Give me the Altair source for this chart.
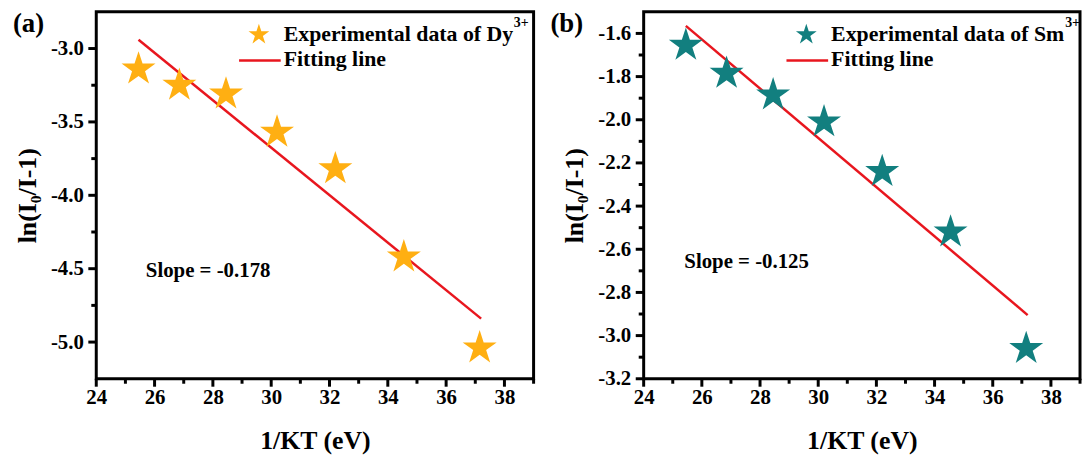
import altair as alt
import pandas as pd

# ---------------- data ----------------
inv_kt = [25.45, 26.85, 28.45, 30.2, 32.2, 34.55, 37.15]
dy_vals = [-3.14, -3.25, -3.31, -3.57, -3.82, -4.42, -5.04]
sm_vals = [-1.655, -1.785, -1.885, -2.01, -2.24, -2.52, -3.06]

fit_x = [25.45, 37.2]
dy_fit = [-2.94, -4.84]
sm_fit = [-1.565, -2.905]

x_major = [24, 26, 28, 30, 32, 34, 36, 38]
x_minor = [25, 27, 29, 31, 33, 35, 37, 39]
dy_major = [-5.0, -4.5, -4.0, -3.5, -3.0]
dy_minor = [-4.75, -4.25, -3.75, -3.25]
sm_major = [-3.2, -3.0, -2.8, -2.6, -2.4, -2.2, -2.0, -1.8, -1.6]
sm_minor = [-3.1, -2.9, -2.7, -2.5, -2.3, -2.1, -1.9, -1.7]

FONT = "Liberation Serif"
STAR = ("M0,-1 L0.2245,-0.309 L0.951,-0.309 L0.363,0.118 L0.588,0.809 L0,0.382 "
        "L-0.588,0.809 L-0.363,0.118 L-0.951,-0.309 L-0.2245,-0.309 Z")
RED = "#E8161E"
BLK = "#000000"
LW = 3
H = 370


def panel(tag, tag_x, ion, sup_x, color, yvals, fity, ydom, ymaj, ymin, slope_txt, slope_xy, width):
    pts = pd.DataFrame({"x": inv_kt, "y": yvals})
    fit = pd.DataFrame({"x": fit_x, "y": fity})

    xscale = alt.Scale(domain=[24, 39], nice=False, zero=False)
    yscale = alt.Scale(domain=ydom, nice=False, zero=False)

    xaxis = alt.Axis(
        values=x_major, title="1/KT (eV)", grid=False, format="d",
        ticks=False, domain=False,
        labelFont=FONT, labelFontWeight="bold", labelFontSize=21, labelColor=BLK,
        titleFont=FONT, titleFontWeight="bold", titleFontSize=26, titleColor=BLK,
        labelPadding=8, titlePadding=20, labelFlush=False, labelOverlap=False,
    )
    yaxis = alt.Axis(
        values=ymaj, title="ln(I\u2080/I-1)", grid=False,
        labelExpr="(datum.value < 0 ? '-' : '') + format(abs(datum.value), '.1f')",
        ticks=False, domain=False,
        labelFont=FONT, labelFontWeight="bold", labelFontSize=21, labelColor=BLK,
        titleFont=FONT, titleFontWeight="bold", titleFontSize=26, titleColor=BLK,
        labelPadding=13, titlePadding=10, labelFlush=False, labelOverlap=False,
    )

    line = alt.Chart(fit).mark_line(color=RED, strokeWidth=2.5).encode(
        x=alt.X("x:Q", scale=xscale, axis=xaxis),
        y=alt.Y("y:Q", scale=yscale, axis=yaxis),
    )
    stars = alt.Chart(pts).mark_point(
        shape=STAR, size=1296, filled=True, color=color, opacity=1, strokeWidth=0
    ).encode(x="x:Q", y="y:Q")

    # tick marks (major and minor) drawn through the scales
    xmaj_r = alt.Chart(pd.DataFrame({"x": x_major})).mark_rule(color=BLK, strokeWidth=LW).encode(
        x="x:Q", y=alt.value(H), y2=alt.value(H + 8)
    )
    xmin_r = alt.Chart(pd.DataFrame({"x": x_minor})).mark_rule(color=BLK, strokeWidth=LW).encode(
        x="x:Q", y=alt.value(H), y2=alt.value(H + 5)
    )
    ymaj_r = alt.Chart(pd.DataFrame({"y": ymaj})).mark_rule(color=BLK, strokeWidth=LW).encode(
        y="y:Q", x=alt.value(0), x2=alt.value(-8)
    )
    ymin_r = alt.Chart(pd.DataFrame({"y": ymin})).mark_rule(color=BLK, strokeWidth=LW).encode(
        y="y:Q", x=alt.value(0), x2=alt.value(-5)
    )
    # frame
    frame = alt.Chart(pd.DataFrame({"t": [0]})).mark_rect(
        fill=None, fillOpacity=0, stroke=BLK, strokeWidth=LW
    ).encode(x=alt.value(0), x2=alt.value(width), y=alt.value(0), y2=alt.value(H))

    lab = alt.Chart(pd.DataFrame({"t": [tag]})).mark_text(
        font=FONT, fontWeight="bold", fontSize=27, align="left", baseline="middle", color=BLK
    ).encode(x=alt.value(tag_x), y=alt.value(12), text="t:N")

    leg_star = alt.Chart(pd.DataFrame({"t": [0]})).mark_point(
        shape=STAR, size=484, filled=True, color=color, opacity=1, strokeWidth=0
    ).encode(x=alt.value(164), y=alt.value(23))
    leg_line = alt.Chart(pd.DataFrame({"t": [0]})).mark_rule(color=RED, strokeWidth=2.5).encode(
        x=alt.value(144), x2=alt.value(186), y=alt.value(49)
    )
    leg_t1 = alt.Chart(pd.DataFrame({"t": [f"Experimental data of {ion}"]})).mark_text(
        font=FONT, fontWeight="bold", fontSize=22, align="left", baseline="alphabetic", color=BLK
    ).encode(x=alt.value(189), y=alt.value(29), text="t:N")
    leg_sup = alt.Chart(pd.DataFrame({"t": ["3+"]})).mark_text(
        font=FONT, fontWeight="bold", fontSize=14, align="left", baseline="alphabetic", color=BLK
    ).encode(x=alt.value(sup_x), y=alt.value(15), text="t:N")
    leg_t2 = alt.Chart(pd.DataFrame({"t": ["Fitting line"]})).mark_text(
        font=FONT, fontWeight="bold", fontSize=22, align="left", baseline="alphabetic", color=BLK
    ).encode(x=alt.value(189), y=alt.value(55), text="t:N")
    slope = alt.Chart(pd.DataFrame({"t": [slope_txt]})).mark_text(
        font=FONT, fontWeight="bold", fontSize=21, align="left", baseline="middle", color=BLK
    ).encode(x=alt.value(slope_xy[0]), y=alt.value(slope_xy[1]), text="t:N")

    return alt.layer(line, stars, xmaj_r, xmin_r, ymaj_r, ymin_r, frame, lab, leg_star,
                     leg_line, leg_t1, leg_sup, leg_t2, slope).properties(
        width=width, height=H, view=alt.ViewBackground(stroke=None)
    )


pa = panel("(a)", -84, "Dy", 421, "#FFAF12", dy_vals, dy_fit, [-5.25, -2.75], dy_major, dy_minor,
           "Slope = -0.178", (50, 261), 441)
pb = panel("(b)", -94, "Sm", 425, "#127F7F", sm_vals, sm_fit, [-3.2, -1.5], sm_major, sm_minor,
           "Slope = -0.125", (41, 252), 440)

chart = alt.hconcat(pa, pb, spacing=15).properties(
    padding={"left": 5, "top": 0, "right": 0, "bottom": 0},
    background="white",
)

chart.save("out.html", embed_options={"renderer": "svg", "actions": False})
